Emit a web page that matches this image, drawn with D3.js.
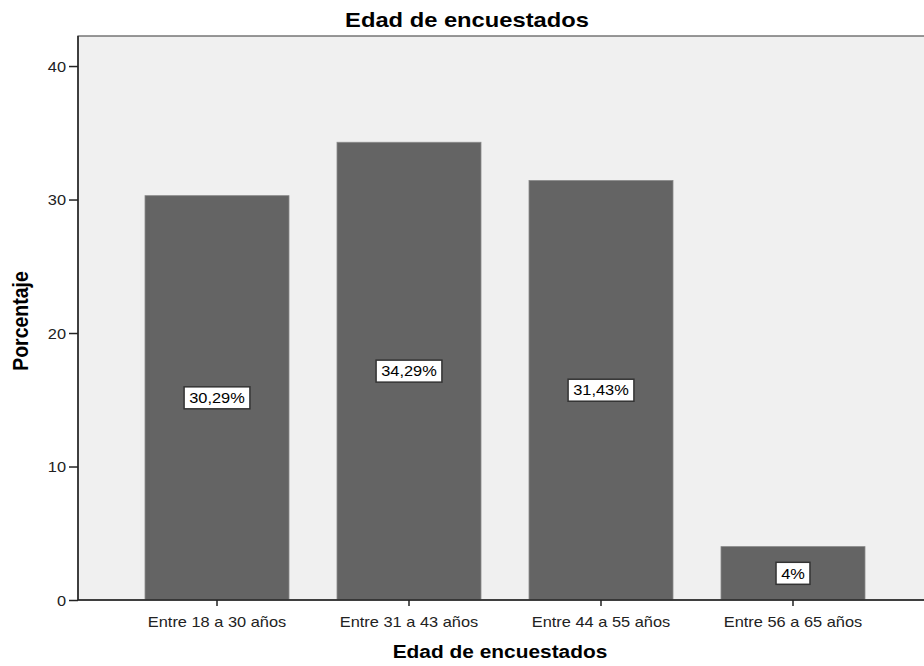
<!DOCTYPE html>
<html>
<head>
<meta charset="utf-8">
<script src="https://cdn.jsdelivr.net/npm/d3@7"></script>
<style>
    body { margin: 0; background: #fff; }
    svg { display: block; font-family: 'Liberation Sans', Arial, sans-serif; }
</style>
</head>
<body>
<script>
const categories = ['Entre 18 a 30 años', 'Entre 31 a 43 años', 'Entre 44 a 55 años', 'Entre 56 a 65 años']
const values = [30.29, 34.29, 31.43, 4]
const labels = ['30,29%', '34,29%', '31,43%', '4%']
const yTicks = [0, 10, 20, 30, 40]

const width = 924
const height = 666
const plotLeft = 78, plotTop = 36, plotBottom = 600, plotRight = 932
// the reference text is a bit wider than plain Arial
const sx = 1.13

const svg = d3.select('body').append('svg')
    .attr('width', width)
    .attr('height', height)

const x = d3.scaleBand()
    .domain(categories)
    .range([plotLeft, plotRight])
    .paddingInner(0.25)
    .paddingOuter(0.349)

const y = d3.scaleLinear()
    .domain([0, 42.25])
    .range([plotBottom, plotTop])

// plot background
svg.append('rect')
    .attr('x', plotLeft)
    .attr('y', plotTop)
    .attr('width', plotRight - plotLeft)
    .attr('height', plotBottom - plotTop)
    .attr('fill', '#f0f0f0')
    .attr('stroke', '#555')
    .attr('stroke-width', 1.2)

svg.selectAll('rect.bar')
    .data(values)
    .enter()
    .append('rect')
    .attr('class', 'bar')
    .attr('x', (d, i) => x(categories[i]))
    .attr('y', d => y(d))
    .attr('width', x.bandwidth())
    .attr('height', d => plotBottom - y(d))
    .attr('fill', '#646464')
    .attr('stroke', '#8a8a8a')
    .attr('stroke-width', 0.8)

// value labels
const lab = svg.selectAll('g.lab')
    .data(values)
    .enter()
    .append('g')
    .attr('class', 'lab')
    .attr('transform', (d, i) => `translate(${x(categories[i]) + x.bandwidth() / 2},${y(d / 2)})`)

lab.append('text')
    .text((d, i) => labels[i])
    .attr('text-anchor', 'middle')
    .attr('dy', '0.36em')
    .attr('font-size', 14.5)
    .attr('transform', `scale(${sx},1)`)
    .attr('fill', '#000')

lab.each(function () {
    const g = d3.select(this)
    const b = g.select('text').node().getBBox()
    const w = b.width * sx
    g.insert('rect', 'text')
        .attr('x', -w / 2 - 5)
        .attr('y', -11)
        .attr('width', w + 10)
        .attr('height', 22)
        .attr('fill', '#fff')
        .attr('stroke', '#333')
        .attr('stroke-width', 1.5)
})

// axes
const yAxis = svg.append('g')
    .attr('transform', `translate(${plotLeft},0)`)
    .call(d3.axisLeft(y).tickValues(yTicks).tickSize(9).tickPadding(3))
yAxis.select('.domain').attr('stroke', '#222').attr('stroke-width', 1.5)
    .attr('d', `M0,${plotTop}V${plotBottom}`)
yAxis.selectAll('.tick text')
    .attr('x', -12 / sx)
    .attr('dy', '0.36em')

const xAxis = svg.append('g')
    .attr('transform', `translate(0,${plotBottom})`)
    .call(d3.axisBottom(x).tickSize(6).tickPadding(3))
xAxis.select('.domain').attr('stroke', '#222').attr('stroke-width', 1.5)
    .attr('d', `M${plotLeft},0H${plotRight}`)
xAxis.selectAll('.tick text')
    .attr('y', 27)
    .attr('dy', 0)

svg.selectAll('.tick line').attr('stroke', '#222').attr('stroke-width', 1.5)
svg.selectAll('.tick text')
    .attr('font-size', 14.5)
    .attr('font-family', "'Liberation Sans', Arial, sans-serif")
    .attr('transform', `scale(${sx},1)`)
    .attr('fill', '#222')

// titles
svg.append('text')
    .text('Edad de encuestados')
    .attr('transform', `translate(467,27) scale(${sx},1)`)
    .attr('text-anchor', 'middle')
    .attr('font-size', 21)
    .attr('font-weight', 'bold')

svg.append('text')
    .text('Edad de encuestados')
    .attr('transform', `translate(500,658) scale(${sx},1)`)
    .attr('text-anchor', 'middle')
    .attr('font-size', 18.5)
    .attr('font-weight', 'bold')

svg.append('text')
    .text('Porcentaje')
    .attr('transform', `translate(28,321) rotate(-90) scale(1,${sx})`)
    .attr('text-anchor', 'middle')
    .attr('font-size', 19.5)
    .attr('font-weight', 'bold')
</script>
</body>
</html>
